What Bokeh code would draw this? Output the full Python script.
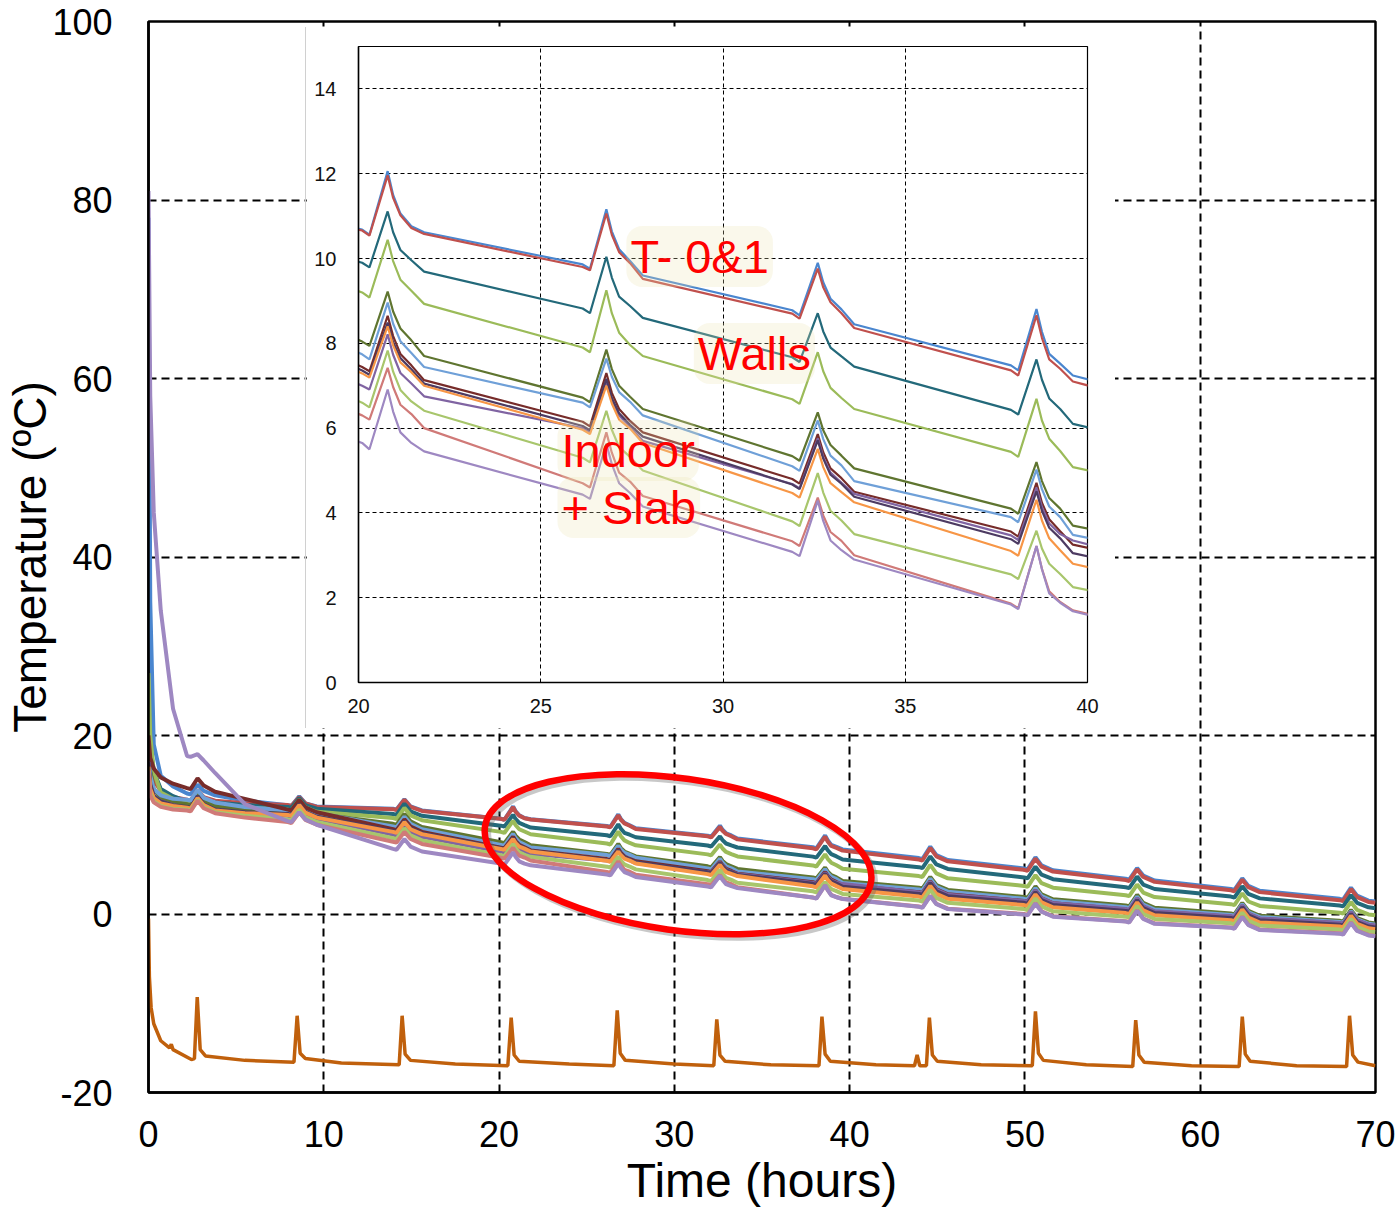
from bokeh.plotting import figure
from bokeh.models import Range1d, FixedTicker, Label
from bokeh.embed import file_html
from bokeh.resources import INLINE

FONT = "Liberation Sans"

# ---------------- data (hours, deg C) ----------------
time_h = [0, 0.1, 0.3, 0.7, 1.4,
          2.2, 2.4, 2.8, 3.15, 3.8, 5.5,
          7.95, 8.15, 8.6, 8.95, 9.6,
          13.95, 14.15, 14.6, 14.95, 15.6,
          20.1, 20.3, 20.8, 20.95, 21.15, 21.45, 21.8,
          26.15, 26.35, 26.8, 26.95, 27.15, 27.45, 27.8,
          31.9, 32.1, 32.6, 32.75, 32.95, 33.25, 33.6,
          37.9, 38.1, 38.6, 38.75, 38.95, 39.25, 39.6,
          43.95, 44.15, 44.6, 44.95, 45.6,
          49.95, 50.15, 50.6, 50.95, 51.6,
          55.75, 55.95, 56.4, 56.75, 57.4,
          61.75, 61.95, 62.4, 62.75, 63.4,
          67.95, 68.15, 68.6, 68.95, 69.6,
          70]

t0_vals = [78, 35, 19, 15.5, 14.3,
           13.5, 13.4, 14.5, 13.8, 13.3, 12.7,
           12.2, 12.1, 13.2, 12.4, 12.05,
           11.8, 11.7, 12.85, 12.05, 11.6,
           10.68, 10.56, 12.06, 11.5, 11.06, 10.76, 10.62,
           9.86, 9.76, 11.16, 10.64, 10.22, 9.94, 9.6,
           8.78, 8.66, 9.90, 9.44, 9.05, 8.8, 8.45,
           7.48, 7.36, 8.81, 8.27, 7.75, 7.52, 7.24,
           6.27, 6.15, 7.55, 6.6, 6.05,
           5.1, 5.0, 6.35, 5.45, 4.9,
           3.95, 3.85, 5.15, 4.3, 3.75,
           2.8, 2.7, 4.0, 3.15, 2.6,
           1.7, 1.6, 2.95, 2.05, 1.5,
           1.4]

t1_vals = [20, 17, 15, 13.8, 13.1,
           12.8, 12.7, 13.9, 13.1, 12.7, 12.4,
           12.2, 12.1, 13.1, 12.4, 12.0,
           11.75, 11.65, 12.8, 12.0, 11.55,
           10.66, 10.54, 11.96, 11.43, 11.02, 10.72, 10.58,
           9.8, 9.72, 11.06, 10.56, 10.15, 9.89, 9.52,
           8.7, 8.58, 9.76, 9.32, 8.97, 8.71, 8.36,
           7.36, 7.24, 8.66, 8.13, 7.62, 7.4, 7.1,
           6.1, 6.0, 7.4, 6.45, 5.9,
           4.95, 4.85, 6.2, 5.3, 4.75,
           3.8, 3.7, 5.0, 4.15, 3.6,
           2.65, 2.55, 3.85, 3.0, 2.45,
           1.55, 1.45, 2.8, 1.9, 1.35,
           1.25]

wall_teal_vals = [24, 19, 16, 14, 13.2,
                  12.6, 12.5, 13.8, 12.9, 12.5, 12.2,
                  12.0, 11.9, 13.0, 12.2, 11.8,
                  11.2, 11.1, 12.35, 11.5, 11.0,
                  9.9, 9.79, 11.11, 10.62, 10.2, 9.96, 9.69,
                  8.82, 8.71, 10.04, 9.55, 9.1, 8.88, 8.6,
                  7.67, 7.56, 8.71, 8.28, 7.9, 7.69, 7.45,
                  6.43, 6.32, 7.62, 7.14, 6.7, 6.45, 6.1,
                  5.25, 5.15, 6.45, 5.55, 5.05,
                  4.1, 4.0, 5.3, 4.4, 3.9,
                  3.0, 2.9, 4.2, 3.3, 2.8,
                  1.95, 1.85, 3.1, 2.25, 1.75,
                  0.95, 0.85, 2.1, 1.25, 0.75,
                  0.65]

wall_green_vals = [27, 20, 16, 13.6, 12.9,
                   12.5, 12.4, 13.6, 12.8, 12.3, 11.9,
                   11.7, 11.6, 12.8, 11.95, 11.45,
                   10.75, 10.65, 11.9, 11.05, 10.5,
                   9.2, 9.08, 10.44, 9.94, 9.5, 9.24, 8.93,
                   7.9, 7.79, 9.25, 8.71, 8.25, 7.96, 7.7,
                   6.68, 6.57, 7.79, 7.34, 6.95, 6.71, 6.45,
                   5.44, 5.32, 6.69, 6.18, 5.75, 5.46, 5.08,
                   4.25, 4.15, 5.5, 4.55, 4.0,
                   3.15, 3.05, 4.35, 3.45, 2.95,
                   2.1, 2.0, 3.3, 2.4, 1.9,
                   1.1, 1.0, 2.3, 1.4, 0.9,
                   0.15, 0.05, 1.35, 0.45, -0.05,
                   -0.15]

indoor_olive_vals = [19, 16, 14, 13, 12.6,
                     12.3, 12.2, 13.5, 12.6, 12.1, 11.7,
                     11.5, 11.4, 12.6, 11.8, 11.2,
                     10.1, 10.0, 11.2, 10.4, 9.75,
                     8.04, 7.94, 9.22, 8.75, 8.35, 8.07, 7.7,
                     6.72, 6.61, 7.85, 7.39, 7.0, 6.74, 6.45,
                     5.34, 5.23, 6.37, 5.95, 5.6, 5.35, 5.05,
                     4.1, 3.98, 5.2, 4.75, 4.35, 4.1, 3.7,
                     2.95, 2.85, 4.15, 3.25, 2.7,
                     1.9, 1.8, 3.1, 2.2, 1.65,
                     0.95, 0.85, 2.15, 1.25, 0.7,
                     0.05, -0.05, 1.25, 0.35, -0.2,
                     -0.75, -0.85, 0.45, -0.45, -0.95,
                     -1.05]

indoor_blue_vals = [18, 15.5, 14, 13.3, 12.9,
                    12.8, 12.7, 13.9, 13.0, 12.5, 12.0,
                    11.6, 11.5, 12.6, 11.85, 11.3,
                    9.8, 9.7, 10.9, 10.1, 9.5,
                    7.74, 7.62, 8.96, 8.46, 8.05, 7.77, 7.44,
                    6.6, 6.49, 7.64, 7.21, 6.85, 6.62, 6.3,
                    5.1, 4.99, 6.18, 5.74, 5.35, 5.12, 4.75,
                    3.9, 3.78, 5.02, 4.56, 4.15, 3.9, 3.48,
                    2.75, 2.65, 3.95, 3.05, 2.5,
                    1.7, 1.6, 2.9, 2.0, 1.45,
                    0.75, 0.65, 1.95, 1.05, 0.5,
                    -0.1, -0.2, 1.1, 0.2, -0.35,
                    -0.9, -1.0, 0.3, -0.6, -1.1,
                    -1.2]

indoor_maroon_vals = [20, 17.5, 16.3, 15.3, 14.6,
                      14.1, 14.0, 15.2, 14.4, 13.7, 12.9,
                      11.7, 11.6, 12.8, 11.95, 11.4,
                      9.5, 9.4, 10.6, 9.8, 9.2,
                      7.44, 7.34, 8.65, 8.17, 7.75, 7.48, 7.13,
                      6.15, 6.04, 7.30, 6.83, 6.45, 6.17, 5.9,
                      4.8, 4.69, 5.86, 5.43, 5.05, 4.82, 4.5,
                      3.56, 3.44, 4.71, 4.24, 3.85, 3.57, 3.25,
                      2.45, 2.35, 3.65, 2.75, 2.2,
                      1.45, 1.35, 2.65, 1.75, 1.2,
                      0.5, 0.4, 1.7, 0.8, 0.25,
                      -0.3, -0.4, 0.9, 0.0, -0.55,
                      -1.05, -1.15, 0.15, -0.75, -1.25,
                      -1.35]

indoor_purple_vals = [17, 14.5, 13.2, 12.6, 12.2,
                      11.9, 11.8, 13.1, 12.2, 11.6, 11.3,
                      11.0, 10.9, 12.1, 11.25, 10.7,
                      8.9, 8.8, 10.0, 9.2, 8.65,
                      7.0, 6.91, 8.21, 7.73, 7.3, 7.05, 6.75,
                      6.0, 5.9, 7.1, 6.66, 6.3, 6.03, 5.7,
                      4.68, 4.58, 5.76, 5.32, 4.95, 4.71, 4.45,
                      3.47, 3.36, 4.6, 4.14, 3.75, 3.5, 3.35,
                      2.4, 2.3, 3.6, 2.7, 2.15,
                      1.45, 1.35, 2.65, 1.75, 1.2,
                      0.55, 0.45, 1.75, 0.85, 0.3,
                      -0.25, -0.35, 0.95, 0.05, -0.5,
                      -1.0, -1.1, 0.2, -0.7, -1.2,
                      -1.3]

indoor_dkpurple_vals = [17, 14.5, 13.2, 12.6, 12.2,
                        12.0, 11.9, 13.2, 12.3, 11.7, 11.4,
                        11.2, 11.1, 12.3, 11.45, 10.9,
                        9.3, 9.2, 10.4, 9.6, 9.05,
                        7.36, 7.26, 8.49, 8.03, 7.65, 7.39, 7.05,
                        6.05, 5.95, 7.16, 6.71, 6.35, 6.08, 5.8,
                        4.67, 4.56, 5.71, 5.28, 4.9, 4.69, 4.38,
                        3.38, 3.27, 4.51, 4.05, 3.65, 3.4, 3.05,
                        2.25, 2.15, 3.45, 2.55, 2.0,
                        1.25, 1.15, 2.45, 1.55, 1.0,
                        0.35, 0.25, 1.55, 0.65, 0.1,
                        -0.45, -0.55, 0.75, -0.15, -0.7,
                        -1.2, -1.3, 0.0, -0.9, -1.4,
                        -1.5]

indoor_orange_vals = [16.5, 14, 13, 12.4, 12.1,
                      11.9, 11.8, 13.0, 12.2, 11.6, 11.3,
                      11.1, 11.0, 12.2, 11.35, 10.8,
                      9.2, 9.1, 10.3, 9.5, 8.95,
                      7.29, 7.19, 8.40, 7.95, 7.55, 7.32, 7.0,
                      5.96, 5.86, 7.0, 6.58, 6.2, 5.99, 5.65,
                      4.47, 4.36, 5.51, 5.08, 4.7, 4.49, 4.25,
                      3.1, 2.99, 4.31, 3.82, 3.4, 3.12, 2.8,
                      1.95, 1.85, 3.15, 2.25, 1.7,
                      1.0, 0.9, 2.2, 1.3, 0.75,
                      0.1, 0.0, 1.3, 0.4, -0.15,
                      -0.7, -0.8, 0.5, -0.4, -0.95,
                      -1.4, -1.5, -0.2, -1.1, -1.6,
                      -1.7]

slab_ltgreen_vals = [16, 13.5, 12.6, 12.1, 11.8,
                     11.7, 11.6, 12.8, 11.95, 11.4, 11.0,
                     10.6, 10.5, 11.7, 10.85, 10.3,
                     8.5, 8.4, 9.6, 8.8, 8.25,
                     6.6, 6.49, 7.83, 7.33, 6.9, 6.63, 6.41,
                     5.3, 5.19, 6.41, 5.96, 5.55, 5.32, 5.0,
                     3.8, 3.69, 4.94, 4.48, 4.05, 3.82, 3.5,
                     2.55, 2.44, 3.58, 3.16, 2.8, 2.56, 2.25,
                     1.5, 1.4, 2.7, 1.8, 1.25,
                     0.55, 0.45, 1.75, 0.85, 0.3,
                     -0.3, -0.4, 0.9, 0.0, -0.55,
                     -1.05, -1.15, 0.15, -0.75, -1.3,
                     -1.75, -1.85, -0.55, -1.45, -1.95,
                     -2.05]

slab_pink_vals = [16, 13.3, 12.5, 12.0, 11.7,
                  11.6, 11.5, 12.7, 11.85, 11.3, 10.8,
                  10.3, 10.2, 11.4, 10.55, 10.0,
                  8.1, 8.0, 9.2, 8.4, 7.85,
                  6.3, 6.2, 7.42, 6.97, 6.55, 6.33, 6.0,
                  4.7, 4.6, 5.9, 5.42, 4.95, 4.74, 4.4,
                  3.33, 3.22, 4.36, 3.94, 3.55, 3.34, 3.0,
                  1.86, 1.75, 3.22, 2.68, 2.15, 1.9, 1.7,
                  0.85, 0.75, 2.05, 1.15, 0.6,
                  0.0, -0.1, 1.2, 0.3, -0.25,
                  -0.8, -0.9, 0.4, -0.5, -1.05,
                  -1.5, -1.6, -0.3, -1.2, -1.75,
                  -2.15, -2.25, -0.95, -1.85, -2.35,
                  -2.45]

slab_lavender_vals = [81, 58, 45, 34, 23,
                      17.7, 17.6, 17.9, 17.2, 15.8, 12.3,
                      10.4, 10.3, 11.4, 10.6, 10.0,
                      7.3, 7.2, 8.4, 7.55, 7.0,
                      5.65, 5.5, 6.91, 6.39, 5.9, 5.65, 5.45,
                      4.43, 4.33, 5.63, 5.15, 4.7, 4.47, 4.15,
                      3.08, 2.98, 4.29, 3.81, 3.35, 3.12, 2.9,
                      1.84, 1.73, 3.22, 2.67, 2.1, 1.88, 1.68,
                      0.8, 0.7, 2.0, 1.1, 0.55,
                      -0.05, -0.15, 1.15, 0.25, -0.3,
                      -0.85, -0.95, 0.35, -0.55, -1.1,
                      -1.55, -1.65, -0.35, -1.25, -1.8,
                      -2.2, -2.3, -1.0, -1.9, -2.4,
                      -2.5]

outdoor_time = [0, 0.05, 0.15, 0.3, 0.7, 1.2, 1.3, 1.4, 2.45,
                2.62, 2.78, 2.95, 3.25, 5.5,
                8.3, 8.48, 8.65, 8.95, 11.0,
                14.3, 14.47, 14.64, 14.95, 17.5,
                20.5, 20.69, 20.86, 21.15, 24.0,
                26.55, 26.74, 26.91, 27.2, 30.0,
                32.25, 32.42, 32.6, 32.9, 35.5,
                38.25, 38.42, 38.6, 38.9, 41.5,
                43.7, 43.85, 44.0,
                44.38, 44.55, 44.72, 45.0, 47.5,
                50.42, 50.6, 50.77, 51.05, 53.5,
                56.15, 56.32, 56.5, 56.8, 59.5,
                62.22, 62.4, 62.57, 62.85, 65.5,
                68.35, 68.52, 68.7, 69.0, 70]

outdoor_vals = [-0.5, -7.0, -10.5, -12.3, -14.2, -15.0, -14.6, -15.2, -16.3,
                -16.2, -9.3, -15.2, -15.9, -16.4,
                -16.6, -11.4, -15.6, -16.2, -16.7,
                -16.9, -11.4, -15.7, -16.4, -16.8,
                -17.0, -11.6, -15.8, -16.5, -16.8,
                -17.0, -10.8, -15.6, -16.4, -16.8,
                -17.0, -11.8, -15.8, -16.5, -16.9,
                -17.0, -11.5, -15.7, -16.5, -16.9,
                -17.0, -15.8, -17.0,
                -17.0, -11.6, -15.8, -16.5, -16.9,
                -17.0, -10.9, -15.6, -16.4, -16.9,
                -17.1, -11.9, -15.8, -16.6, -17.0,
                -17.1, -11.5, -15.7, -16.5, -17.0,
                -17.1, -11.4, -15.8, -16.6, -17.0]

main_x_ticks = [0, 10, 20, 30, 40, 50, 60, 70]
main_y_ticks = [-20, 0, 20, 40, 60, 80, 100]
inset_x_ticks = [20, 25, 30, 35, 40]
inset_y_ticks = [0, 2, 4, 6, 8, 10, 12, 14]

annotations = [("T- 0&1", 27.35, 10.05), ("Walls", 29.2, 7.76),
               ("Indoor", 25.46, 5.47), ("+ Slab", 25.46, 4.13)]

# highlight ellipse (main-plot data position, screen-size)
ell_x, ell_y, ell_w, ell_h, ell_angle = 30.21, 6.7, 390, 152, -0.14

series = [
    (t0_vals, "#4A86CF"),
    (t1_vals, "#C0504D"),
    (wall_teal_vals, "#23697A"),
    (wall_green_vals, "#9BBB59"),
    (indoor_olive_vals, "#5F7530"),
    (indoor_blue_vals, "#6FA0D8"),
    (indoor_maroon_vals, "#772C2A"),
    (indoor_purple_vals, "#8064A2"),
    (indoor_dkpurple_vals, "#4D3B62"),
    (indoor_orange_vals, "#F79646"),
    (slab_ltgreen_vals, "#A8C66C"),
    (slab_pink_vals, "#D07A78"),
    (slab_lavender_vals, "#9E88C2"),
]

# ---------------- main figure ----------------
p = figure(width=1396, height=1225, x_range=Range1d(0, 70), y_range=Range1d(-20, 100),
           output_backend="svg", toolbar_location=None,
           min_border_left=148, min_border_right=21, min_border_top=21, min_border_bottom=133)
p.background_fill_color = "white"
p.border_fill_color = "white"
p.outline_line_color = "black"
p.outline_line_width = 2.5

for ax in (p.xaxis[0], p.yaxis[0]):
    ax.axis_line_color = "black"
    ax.axis_line_width = 2.5
    ax.major_tick_line_color = None
    ax.minor_tick_line_color = None
    ax.major_label_text_font = FONT
    ax.major_label_text_font_size = "36px"
    ax.major_label_text_color = "black"
    ax.axis_label_text_font = FONT
    ax.axis_label_text_font_style = "normal"
    ax.axis_label_text_color = "black"

p.xaxis.ticker = FixedTicker(ticks=main_x_ticks)
p.yaxis.ticker = FixedTicker(ticks=main_y_ticks)
p.yaxis.major_label_overrides = {t: str(t) for t in main_y_ticks}
p.xaxis.axis_label = "Time (hours)"
p.yaxis.axis_label = "Temperature (ºC)"
p.xaxis.axis_label_text_font_size = "48px"
p.yaxis.axis_label_text_font_size = "46px"
p.xaxis.major_label_standoff = 22
p.xaxis.axis_label_standoff = 4
p.yaxis.major_label_standoff = 30
p.yaxis.axis_label_standoff = -7

p.xgrid.ticker = FixedTicker(ticks=main_x_ticks[1:-1])
p.ygrid.ticker = FixedTicker(ticks=main_y_ticks[1:-1])
for g in (p.xgrid[0], p.ygrid[0]):
    g.grid_line_color = "black"
    g.grid_line_width = 2
    g.grid_line_dash = "8 5"

for vals, col in series:
    p.line(time_h, vals, line_color=col, line_width=4)
p.line(outdoor_time, outdoor_vals, line_color="#C0600C", line_width=3.5)

# highlight ellipse with soft shadow
p.ellipse(x=[ell_x + 0.17], y=[ell_y - 0.35], width=[ell_w], height=[ell_h], angle=ell_angle,
          width_units="screen", height_units="screen", fill_color=None,
          line_color="#606060", line_alpha=0.35, line_width=7)
p.ellipse(x=[ell_x], y=[ell_y], width=[ell_w], height=[ell_h], angle=ell_angle,
          width_units="screen", height_units="screen", fill_color=None,
          line_color="#FF0000", line_width=6.5)

# ---------------- inset figure ----------------
ins = figure(width=810, height=701, x_range=Range1d(20, 40), y_range=Range1d(0, 15),
             output_backend="svg", toolbar_location=None,
             min_border_left=52, min_border_right=29, min_border_top=19, min_border_bottom=46)
ins.background_fill_color = "white"
ins.border_fill_color = "white"
ins.outline_line_color = "black"
ins.outline_line_width = 1.2
for ax in (ins.xaxis[0], ins.yaxis[0]):
    ax.axis_line_color = "black"
    ax.axis_line_width = 1.5
    ax.major_tick_line_color = None
    ax.minor_tick_line_color = None
    ax.major_label_text_font = FONT
    ax.major_label_text_font_size = "20px"
    ax.major_label_text_color = "#111111"
ins.xaxis.ticker = FixedTicker(ticks=inset_x_ticks)
ins.yaxis.ticker = FixedTicker(ticks=inset_y_ticks)
ins.xaxis.major_label_standoff = 10
ins.yaxis.major_label_standoff = 16
ins.xgrid.ticker = FixedTicker(ticks=inset_x_ticks[1:-1])
ins.ygrid.ticker = FixedTicker(ticks=inset_y_ticks[1:])
for g in (ins.xgrid[0], ins.ygrid[0]):
    g.grid_line_color = "black"
    g.grid_line_width = 1
    g.grid_line_dash = "4 3"

for vals, col in series:
    ins.line(time_h, vals, line_color=col, line_width=2.2)

for txt, tx, ty in annotations:
    ins.add_layout(Label(x=tx, y=ty, text=txt, text_font=FONT, text_font_size="47px",
                         text_color="#FF0000", text_baseline="middle", text_align="left",
                         background_fill_color="#EDE2B0", background_fill_alpha=0.25,
                         padding=4, border_radius=16))

ins.margin = (27 - 1225, 0, 0, 305)
ins.styles = {"border-left": "1px solid #d0d0d0"}

open("out.html", "w").write(file_html([p, ins], INLINE))
